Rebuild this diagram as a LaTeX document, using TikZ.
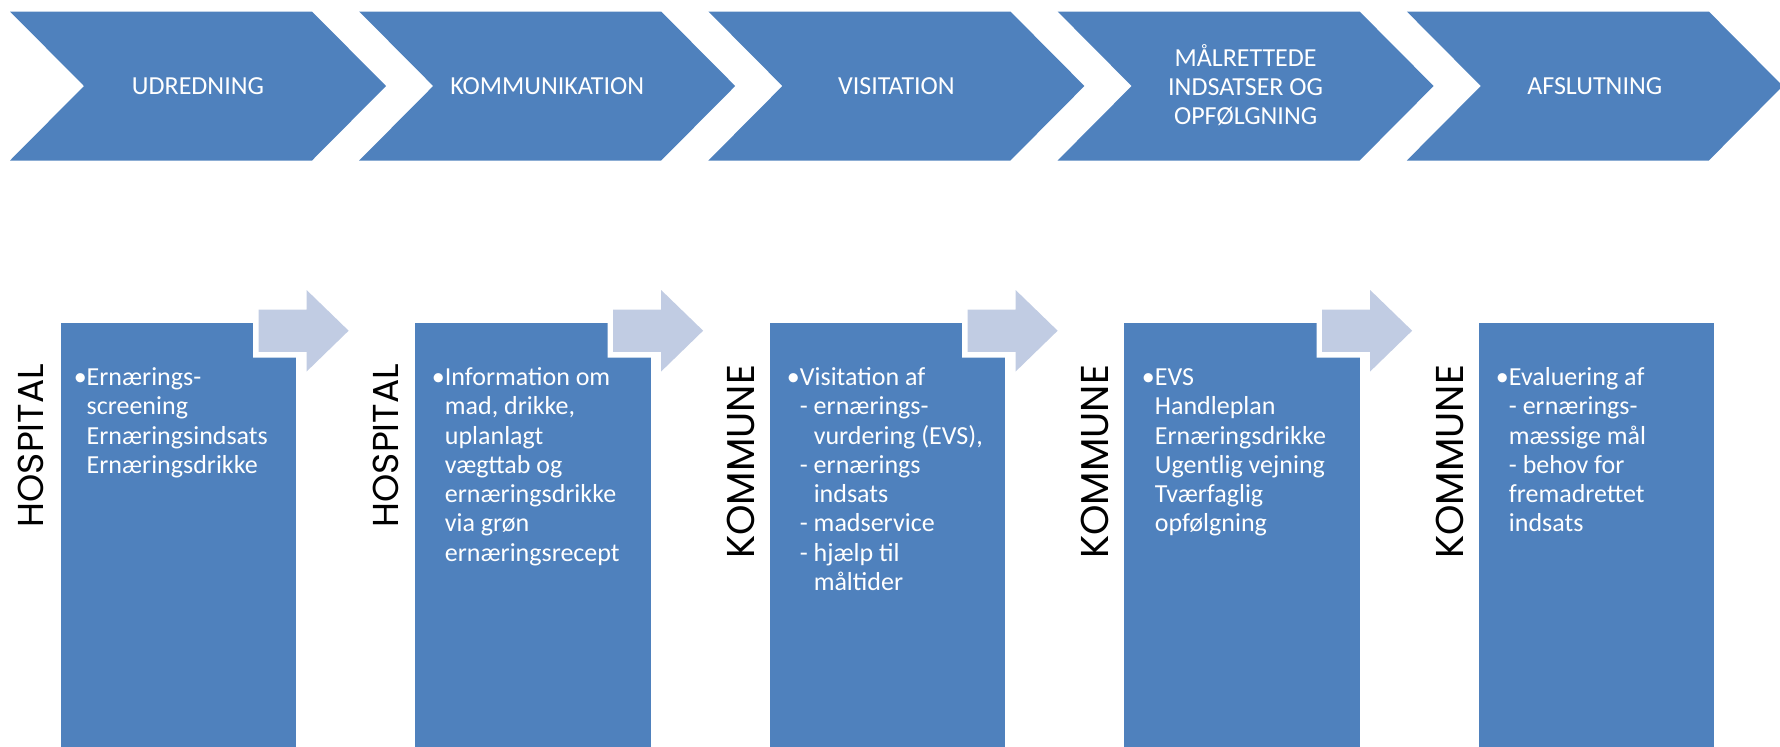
\documentclass[tikz,border=0pt]{standalone}
\usepackage{fontspec}
\usepackage{tikz}
\setmainfont{Carlito}
\newfontfamily\labelfont{Poppins}
\definecolor{stepblue}{RGB}{79,129,189}
\definecolor{arrowblue}{RGB}{193,204,227}
\tikzset{
  stepshape/.style={fill=stepblue},
  colbox/.style={fill=stepblue},
  flowarrow/.style={fill=arrowblue, preaction={draw=white, line width=5.6pt}},
  steptext/.style={text=white, align=center, inner sep=0pt, font=\fontsize{13}{14.5}\selectfont},
  bodytext/.style={text=white, align=left, inner sep=0pt, anchor=north west, font=\fontsize{13}{14.65}\selectfont},
  placelabel/.style={rotate=90, anchor=east, inner sep=0pt, font=\labelfont\fontsize{18}{20}\selectfont},
  widelabel/.style={placelabel, font=\labelfont\fontsize{19.4}{21}\selectfont}
}

\begin{document}
\begin{tikzpicture}[x=0.5pt,y=-0.5pt]
\useasboundingbox (0,0) rectangle (1780,746);

% Process steps along the top
\pgfmathsetmacro{\notch}{74}
\pgfmathsetmacro{\stepW}{376}
\pgfmathsetmacro{\stepH}{149}
\fill[stepshape] (10,11.5) -- ++({\stepW-\notch},0) -- ++(\notch,\stepH/2) -- ++(-\notch,\stepH/2) -- ++({\notch-\stepW},0) -- ++(\notch,-\stepH/2) -- cycle;
\fill[stepshape] (359.2,11.5) -- ++({\stepW-\notch},0) -- ++(\notch,\stepH/2) -- ++(-\notch,\stepH/2) -- ++({\notch-\stepW},0) -- ++(\notch,-\stepH/2) -- cycle;
\fill[stepshape] (708.4,11.5) -- ++({\stepW-\notch},0) -- ++(\notch,\stepH/2) -- ++(-\notch,\stepH/2) -- ++({\notch-\stepW},0) -- ++(\notch,-\stepH/2) -- cycle;
\fill[stepshape] (1057.6,11.5) -- ++({\stepW-\notch},0) -- ++(\notch,\stepH/2) -- ++(-\notch,\stepH/2) -- ++({\notch-\stepW},0) -- ++(\notch,-\stepH/2) -- cycle;
\fill[stepshape] (1406.8,11.5) -- ++({\stepW-\notch},0) -- ++(\notch,\stepH/2) -- ++(-\notch,\stepH/2) -- ++({\notch-\stepW},0) -- ++(\notch,-\stepH/2) -- cycle;

\node[steptext] (udredning) at (198,86) {UDREDNING};
\node[steptext] (kommunikation) at (547.2,86) {KOMMUNIKATION};
\node[steptext] (visitation) at (896.4,86) {VISITATION};
\node[steptext] (indsatser) at (1245.6,85) {MÅLRETTEDE\\INDSATSER OG\\OPFØLGNING};
\node[steptext] (afslutning) at (1594.8,86) {AFSLUTNING};

% Columns below, one per step
\fill[colbox] (60.6,323.3) rectangle ++(235.5,430);
\fill[colbox] (415.1,323.3) rectangle ++(235.5,430);
\fill[colbox] (769.6,323.3) rectangle ++(235.5,430);
\fill[colbox] (1124.1,323.3) rectangle ++(235.5,430);
\fill[colbox] (1478.6,323.3) rectangle ++(235.5,430);

% Block arrows cut into the top right corners
\fill[flowarrow] (258.6,309.5) -- ++(48,0) -- ++(0,-19.5) -- ++(42,40.7) -- ++(-42,40.8) -- ++(0,-19.6) -- ++(-48,0) -- cycle;
\fill[flowarrow] (613.1,309.5) -- ++(48,0) -- ++(0,-19.5) -- ++(42,40.7) -- ++(-42,40.8) -- ++(0,-19.6) -- ++(-48,0) -- cycle;
\fill[flowarrow] (967.6,309.5) -- ++(48,0) -- ++(0,-19.5) -- ++(42,40.7) -- ++(-42,40.8) -- ++(0,-19.6) -- ++(-48,0) -- cycle;
\fill[flowarrow] (1322.1,309.5) -- ++(48,0) -- ++(0,-19.5) -- ++(42,40.7) -- ++(-42,40.8) -- ++(0,-19.6) -- ++(-48,0) -- cycle;

% Where each step takes place
\node[placelabel] (hospA) at (31.1,363.5) {HOSPITAL};
\node[placelabel] (hospB) at (385.6,363.5) {HOSPITAL};
\node[widelabel] (kommA) at (740.6,364.5) {KOMMUNE};
\node[widelabel] (kommB) at (1095.1,364.5) {KOMMUNE};
\node[widelabel] (kommC) at (1449.6,364.5) {KOMMUNE};

% Column contents
\node[bodytext] (screening) at (86.3,364.5) {\strut\llap{•}Ernærings-\\screening\\Ernæringsindsats\\Ernæringsdrikke};
\node[bodytext] (information) at (444.5,364.5) {\strut\llap{•}Information om\\mad, drikke,\\uplanlagt\\vægttab og\\ernæringsdrikke\\via grøn\\ernæringsrecept};
\node[bodytext] (visitering) at (799.5,364.5) {\strut\llap{•}Visitation af\\- ernærings-\\\phantom{-\ }vurdering (EVS),\\- ernærings\\\phantom{-\ }indsats\\- madservice\\- hjælp til\\\phantom{-\ }måltider};
\node[bodytext] (handleplan) at (1154.5,364.5) {\strut\llap{•}EVS\\Handleplan\\Ernæringsdrikke\\Ugentlig vejning\\Tværfaglig\\opfølgning};
\node[bodytext] (evaluering) at (1508.5,364.5) {\strut\llap{•}Evaluering af\\- ernærings-\\mæssige mål\\- behov for\\fremadrettet\\indsats};
\end{tikzpicture}
\end{document}
